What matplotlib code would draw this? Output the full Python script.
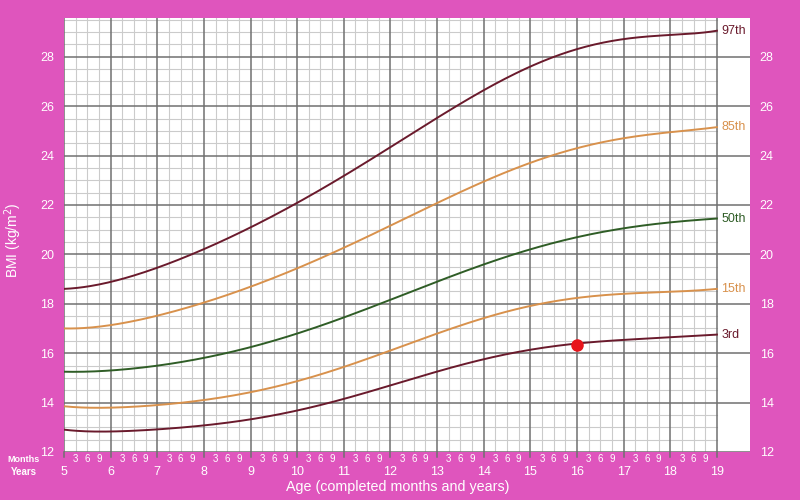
import matplotlib.pyplot as plt
import matplotlib.transforms as mtransforms
import numpy as np

plt.rcParams['font.family'] = ['Liberation Sans', 'DejaVu Sans']

# Age in completed years
ages = [5, 6, 7, 8, 9, 10, 11, 12, 13, 14, 15, 16, 17, 18, 19]

# BMI centile curves (kg/m2)
p97 = [18.6, 18.9, 19.45, 20.2, 21.1, 22.1, 23.2, 24.3, 25.5, 26.7, 27.6, 28.3, 28.7, 28.9, 29.05]
p85 = [17.0, 17.15, 17.5, 18.05, 18.7, 19.45, 20.25, 21.15, 22.1, 22.95, 23.7, 24.3, 24.7, 24.95, 25.15]
p50 = [15.25, 15.3, 15.5, 15.8, 16.25, 16.8, 17.45, 18.15, 18.9, 19.6, 20.2, 20.7, 21.05, 21.3, 21.45]
p15 = [13.85, 13.8, 13.9, 14.1, 14.4, 14.9, 15.45, 16.1, 16.75, 17.45, 17.95, 18.2, 18.4, 18.5, 18.6]
p3 = [12.9, 12.85, 12.9, 13.05, 13.35, 13.7, 14.15, 14.65, 15.25, 15.8, 16.15, 16.35, 16.55, 16.65, 16.75]

centile_labels = ['97th', '85th', '50th', '15th', '3rd']

# the child's measurement
point_age = 16.0
point_bmi = 16.33

month_labels = ['3', '6', '9']
bmi_ticks = [12, 14, 16, 18, 20, 22, 24, 26, 28]

PINK = '#DF55BD'
MAROON = '#6A1A2C'
TAN = '#D8914C'
GREEN = '#2F5D26'

fig = plt.figure(figsize=(8, 5), dpi=100, facecolor=PINK)
ax = fig.add_axes([0.08, 0.096, 0.8575, 0.868])
ax.set_facecolor('white')

x_min, x_max = 5, 19.71
y_min, y_max = 12, 29.57
ax.set_xlim(x_min, x_max)
ax.set_ylim(y_min, y_max)

# grid drawn by hand so that it stops at age 19
for y in np.arange(12, 29.6, 0.5):
    if y % 2 == 0:
        ax.plot([5, x_max], [y, y], color='#707070', lw=1.1, zorder=1)
    else:
        ax.plot([5, 19], [y, y], color='#cbcbcb', lw=0.8, zorder=0)
for x in np.arange(5, 19.01, 0.25):
    if x % 1 == 0:
        ax.plot([x, x], [y_min, y_max], color='#707070', lw=1.1, zorder=1)
    else:
        ax.plot([x, x], [y_min, y_max], color='#cbcbcb', lw=0.8, zorder=0)

# smooth curves through the read points
fine = np.linspace(5, 19, 300)
series = [p97, p85, p50, p15, p3]
colors = [MAROON, TAN, GREEN, TAN, MAROON]
for vals, c, lab in zip(series, colors, centile_labels):
    coef = np.polyfit(ages, vals, 7)
    ax.plot(fine, np.polyval(coef, fine), color=c, lw=1.4, zorder=3)
    ax.text(19.1, vals[-1], lab, color=c, fontsize=9, va='center', ha='left', zorder=4)

ax.plot(point_age, point_bmi, 'o', color='#E8141B', ms=8, zorder=5)

for s in ax.spines.values():
    s.set_visible(False)

ax.set_yticks(bmi_ticks)
ax.tick_params(axis='y', length=0, labelcolor='white', labelsize=9, pad=7,
               labelright=True, right=False)
ax.set_xticks(ages)
ax.set_xticklabels([str(a) for a in ages])
ax.tick_params(axis='x', length=0, labelcolor='white', labelsize=9, pad=10)

# month labels under each year
trans = mtransforms.blended_transform_factory(ax.transData, ax.transAxes)
for a in ages[:-1]:
    for i, m in enumerate(month_labels):
        ax.text(a + 0.25 * (i + 1), -0.015, m, transform=trans, color='white',
                fontsize=7, ha='center', va='center')
    ax.plot([a, a], [0, -0.012], transform=trans, color='#707070', lw=1.1, clip_on=False)
ax.plot([19, 19], [0, -0.012], transform=trans, color='#707070', lw=1.1, clip_on=False)

fig.text(0.030, 0.082, 'Months', color='white', fontsize=6.5, ha='center', va='center', weight='bold')
fig.text(0.030, 0.056, 'Years', color='white', fontsize=7, ha='center', va='center', weight='bold')

fig.text(0.497, 0.026, 'Age (completed months and years)', color='white', fontsize=10.3, ha='center', va='center')
fig.text(0.016, 0.52, 'BMI (kg/m$^2$)', color='white', fontsize=10, ha='center', va='center', rotation=90)

fig.savefig('out.png', dpi=100, facecolor=PINK)
